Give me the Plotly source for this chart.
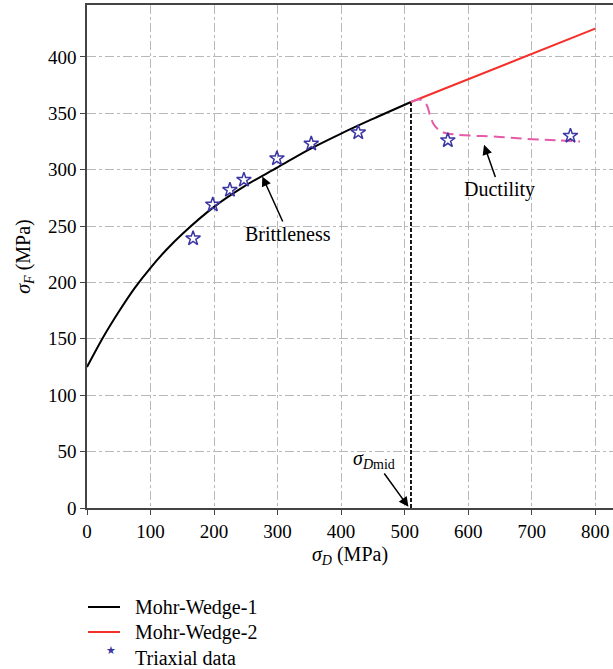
import plotly.graph_objects as go

# Mohr-Wedge-1 (brittle branch)
mw1_x = [0, 25, 50, 75, 100, 125, 150, 200, 250, 300, 350, 400, 450, 510]
mw1_y = [125, 151, 174, 195, 213, 229, 243, 267, 286, 302, 318, 332, 345, 360]

# Mohr-Wedge-2 (linear branch)
mw2_x = [510, 800]
mw2_y = [360, 425]

# Ductile (dashed pink) branch
duct_x = [510, 525, 535, 540, 545, 552, 561, 583, 650, 700, 740, 776]
duct_y = [360, 362, 357, 348, 341, 336, 333, 331, 329, 327, 326, 325]

# Triaxial data
tri_x = [167, 198, 225, 247, 299, 353, 427, 568, 761]
tri_y = [239, 269, 282, 291, 310, 323, 333, 326, 330]

# sigma_Dmid
dmid_x = [510, 510]
dmid_y = [0, 360]

x_ticks = [0, 100, 200, 300, 400, 500, 600, 700, 800]
y_ticks = [0, 50, 100, 150, 200, 250, 300, 350, 400]

legend_names = ["Mohr-Wedge-1", "Mohr-Wedge-2", "Triaxial data"]

FONT = "Liberation Serif"
star_col = "#3b36a3"
red_col = "#f5302a"

fig = go.Figure()
fig.add_trace(go.Scatter(x=dmid_x, y=dmid_y, mode="lines",
                         line=dict(color="black", width=1.8, dash="4px,2px"),
                         showlegend=False, hoverinfo="skip"))
fig.add_trace(go.Scatter(x=mw1_x, y=mw1_y, mode="lines", name=legend_names[0],
                         line=dict(color="black", width=2, shape="spline"), showlegend=False))
fig.add_trace(go.Scatter(x=mw2_x, y=mw2_y, mode="lines", name=legend_names[1],
                         line=dict(color=red_col, width=2), showlegend=False))
fig.add_trace(go.Scatter(x=duct_x, y=duct_y, mode="lines",
                         line=dict(color="#e65aa9", width=2, dash="11px,6px", shape="spline"),
                         showlegend=False))
fig.add_trace(go.Scatter(x=tri_x, y=tri_y, mode="markers", name=legend_names[2],
                         marker=dict(symbol="star-open", size=11, color=star_col,
                                     line=dict(width=1.5, color=star_col)),
                         showlegend=False))

ann_font = dict(family=FONT, size=20, color="black")
arrow_kw = dict(showarrow=True, arrowhead=2, arrowsize=1.3, arrowwidth=1.5,
                arrowcolor="black", axref="x", ayref="y", font=ann_font)
fig.add_annotation(x=276, y=294, ax=317, ay=243, text="Brittleness", **arrow_kw)
fig.add_annotation(x=625, y=322, ax=650, ay=282, text="Ductility", **arrow_kw)
fig.add_annotation(x=506, y=1, ax=452, ay=43, text="<i>σ</i><sub><i>D</i>mid</sub>", **arrow_kw)

# manual legend below the plot (paper coordinates)
def px_x(p):
    return (p - 87) / 526.0

def px_y(p):
    return (508 - p) / 503.0

leg_y = [607, 632, 658]
fig.add_shape(type="line", xref="paper", yref="paper", x0=px_x(88), x1=px_x(120),
              y0=px_y(leg_y[0]), y1=px_y(leg_y[0]), line=dict(color="black", width=2))
fig.add_shape(type="line", xref="paper", yref="paper", x0=px_x(88), x1=px_x(120),
              y0=px_y(leg_y[1]), y1=px_y(leg_y[1]), line=dict(color=red_col, width=2))
fig.add_annotation(xref="paper", yref="paper", x=px_x(104), y=px_y(leg_y[2] + 1), text="★",
                   showarrow=False, font=dict(family="DejaVu Sans", size=11, color=star_col))
for name, yy in zip(legend_names, leg_y):
    fig.add_annotation(xref="paper", yref="paper", x=px_x(133), y=px_y(yy), text=name,
                       xanchor="left", yanchor="middle", showarrow=False, font=ann_font)

axis_common = dict(
    showgrid=True, gridcolor="#b8b8b8", gridwidth=1, griddash="dashdot",
    showline=True, linecolor="#444", linewidth=1.5,
    ticks="outside", ticklen=5, tickcolor="#444",
    tickfont=dict(family=FONT, size=19, color="black"),
    zeroline=False,
)
fig.update_xaxes(range=[0, 828], tickvals=x_ticks, mirror=True,
                 title=dict(text="<i>σ</i><sub><i>D</i></sub> (MPa)", font=dict(family=FONT, size=20, color="black"), standoff=6),
                 **axis_common)
fig.update_yaxes(range=[0, 446], tickvals=y_ticks,
                 title=dict(text="<i>σ</i><sub><i>F</i></sub> (MPa)", font=dict(family=FONT, size=20, color="black"), standoff=12),
                 **axis_common)

fig.update_layout(
    width=613, height=669,
    margin=dict(l=87, r=0, t=5, b=161),
    plot_bgcolor="white", paper_bgcolor="white",
    font=dict(family=FONT, size=19, color="black"),
    showlegend=False,
)

fig.write_html("out.html")
